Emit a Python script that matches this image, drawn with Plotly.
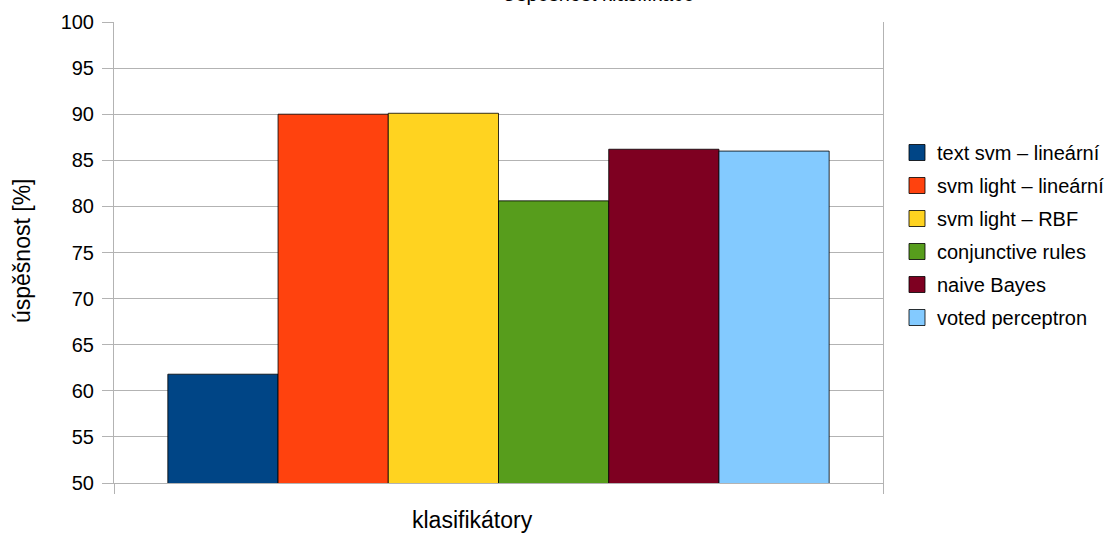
import plotly.graph_objects as go

categories = [""]
series_names = ["text svm – lineární", "svm light – lineární", "svm light – RBF",
                "conjunctive rules", "naive Bayes", "voted perceptron"]
series_values = [61.8, 90.0, 90.1, 80.6, 86.2, 86.0]
colors = ["#004586", "#ff420e", "#ffd320", "#579d1c", "#7e0021", "#83caff"]
y_ticks = list(range(50, 101, 5))

title_text = "Úspěšnost klasifikace"
x_title = "klasifikátory"
y_title = "úspěšnost [%]"

FONT = "Liberation Sans, Arial, sans-serif"
GRID = "#b3b3b3"

fig = go.Figure()
for name, val, col in zip(series_names, series_values, colors):
    fig.add_trace(go.Bar(
        x=categories, y=[val], name=name, showlegend=False,
        marker=dict(color=col, line=dict(color="rgba(0,0,0,0.8)", width=1)),
    ))
for i, (name, col) in enumerate(zip(series_names, colors)):
    fig.add_trace(go.Scatter(
        x=[None], y=[None], mode="markers", name=name, legendgroup=f"g{i}",
        marker=dict(symbol="square", size=16, color=col,
                    line=dict(color="rgba(0,0,0,0.8)", width=1)),
    ))

L, R, T, B = 114, 236, 22, 53
W, H = 1119, 536
PW, PH = W - L - R, H - T - B

fig.update_layout(
    width=W, height=H,
    margin=dict(l=L, r=R, t=T, b=B, pad=0, autoexpand=False),
    paper_bgcolor="white", plot_bgcolor="white",
    barmode="group", bargap=0.14, bargroupgap=0,
    font=dict(family=FONT, size=20, color="black"),
    legend=dict(x=(897 - L) / PW, xanchor="left", y=1 - (133 - T) / PH, yanchor="top",
                font=dict(size=20), tracegroupgap=4, bgcolor="rgba(0,0,0,0)",
                itemsizing="trace"),
    showlegend=True,
)
fig.update_yaxes(
    range=[50, 100], tickvals=y_ticks, ticks="outside", ticklen=11, tickcolor=GRID,
    showgrid=True, gridcolor=GRID, gridwidth=1, showline=True, linecolor=GRID,
    mirror=True, zeroline=False, tickfont=dict(size=20), ticklabelstandoff=4,
)
fig.update_xaxes(
    type="category", tickson="boundaries", ticks="outside", ticklen=10, tickcolor=GRID,
    showticklabels=False, showgrid=True, gridcolor=GRID, showline=True, linecolor=GRID,
    zeroline=False, range=[-0.5, 0.5],
)

fig.add_annotation(text=x_title, xref="paper", yref="paper",
                   x=(472 - L) / PW, y=-(520 - (T + PH)) / PH, xanchor="center", yanchor="middle",
                   showarrow=False, font=dict(size=23))
fig.add_annotation(text=y_title, xref="paper", yref="paper", textangle=-90,
                   x=(22 - L) / PW, y=1 - (251 - T) / PH, xanchor="center", yanchor="middle",
                   showarrow=False, font=dict(size=23))
fig.add_annotation(text=title_text, xref="paper", yref="paper",
                   x=(598 - L) / PW, y=1 + (T - 7) / PH, xanchor="center", yanchor="bottom",
                   showarrow=False, font=dict(size=20))

fig.write_html("out.html")
